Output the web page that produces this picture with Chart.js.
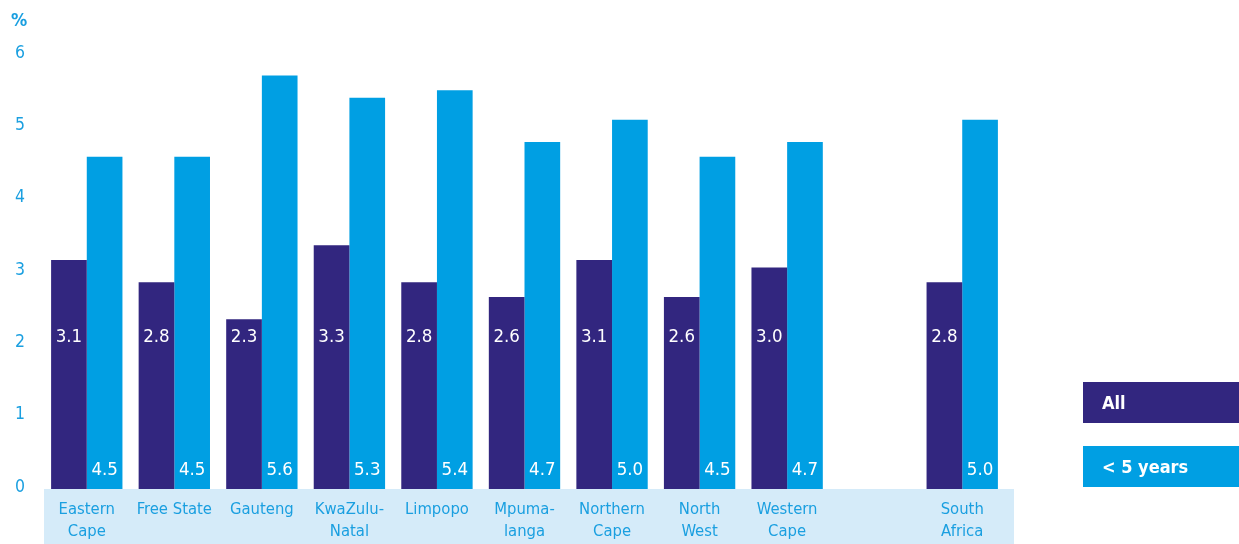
<!DOCTYPE html>
<html><head><meta charset="utf-8">
<script src="https://cdn.jsdelivr.net/npm/chart.js@4/dist/chart.umd.min.js"></script>
<style>
html,body{margin:0;padding:0;background:#fff;}
#wrap{position:relative;width:1239px;height:544px;overflow:hidden;}
#legend{position:absolute;left:1083px;top:382px;width:156px;}
.li{height:41px;color:#fff;font:bold 18px "Liberation Sans Narrow","DejaVu Sans Condensed",sans-serif;line-height:41px;padding-left:19px;box-sizing:border-box;margin-bottom:23px;}
</style></head><body>
<div id="wrap"><canvas id="c" width="1239" height="544"></canvas><div id="legend"></div></div>
<script>
const categories = [["Eastern","Cape"],"Free State","Gauteng",["KwaZulu-","Natal"],"Limpopo",["Mpuma-","langa"],["Northern","Cape"],["North","West"],["Western","Cape"],"",["South","Africa"]];
const seriesNames = ["All","< 5 years"];
const allValues = [3.1,2.8,2.3,3.3,2.8,2.6,3.1,2.6,3.0,null,2.8];
const under5Values = [4.5,4.5,5.6,5.3,5.4,4.7,5.0,4.5,4.7,null,5.0];
const yTicks = [0,1,2,3,4,5,6];
const unitLabel = "%";

const FONT = '"Liberation Sans Narrow","DejaVu Sans Condensed",sans-serif';
const DARK = '#32267f';
const LIGHT = '#009fe3';
const TXT = '#1a9fe0';
const BAND = '#d5ebf9';

const bandPlugin = {
  id: 'band',
  beforeDraw(chart) {
    const {ctx, chartArea, scales} = chart;
    ctx.save();
    ctx.fillStyle = BAND;
    ctx.fillRect(scales.x.left + 1, chartArea.bottom, scales.x.right + 8 - scales.x.left - 1, chart.height - chartArea.bottom);
    ctx.fillStyle = TXT;
    ctx.font = 'bold 18px ' + FONT;
    ctx.textAlign = 'center';
    ctx.textBaseline = 'middle';
    ctx.fillText(unitLabel, 19, 21);
    ctx.restore();
  }
};

const barLabelPlugin = {
  id: 'barLabels',
  afterDatasetsDraw(chart) {
    const {ctx, scales} = chart;
    const yPos = [scales.y.getPixelForValue(2.05), scales.y.getPixelForValue(0.25)];
    ctx.save();
    ctx.fillStyle = '#fff';
    ctx.font = '18.5px ' + FONT;
    ctx.textAlign = 'center';
    ctx.textBaseline = 'middle';
    chart.data.datasets.forEach((ds, di) => {
      chart.getDatasetMeta(di).data.forEach((bar, i) => {
        const v = ds.data[i];
        if (v === null || v === undefined) return;
        ctx.fillText(v.toFixed(1), bar.x, yPos[di]);
      });
    });
    ctx.restore();
  }
};

const chart = new Chart(document.getElementById('c'), {
  type: 'bar',
  data: {
    labels: categories,
    datasets: [
      {label: seriesNames[0], data: allValues, backgroundColor: DARK, yAxisID: 'y'},
      {label: seriesNames[1], data: under5Values, backgroundColor: LIGHT, yAxisID: 'y'}
    ]
  },
  options: {
    responsive: false,
    animation: false,
    events: [],
    layout: {padding: {left: 0, right: 233, top: 46, bottom: 0}},
    datasets: {bar: {categoryPercentage: 0.815, barPercentage: 1.0}},
    plugins: {legend: {display: false}, tooltip: {enabled: false}, title: {display: false}},
    scales: {
      x: {
        grid: {display: false},
        border: {display: false},
        ticks: {color: TXT, font: {family: FONT, size: 16.5, lineHeight: 1.38}, padding: 1, maxRotation: 0, autoSkip: false},
        afterFit(s) { s.height = 55; }
      },
      y: {display: false, min: 0, max: 6},
      yt: {
        position: 'left',
        min: -0.028, max: 6.097,
        grid: {display: false},
        border: {display: false},
        afterBuildTicks(axis) { axis.ticks = yTicks.map(v => ({value: v})); },
        ticks: {color: TXT, font: {family: FONT, size: 17.5}, padding: 10},
        afterFit(s) { s.width = 43; }
      }
    }
  },
  plugins: [bandPlugin, barLabelPlugin]
});

const leg = document.getElementById('legend');
chart.data.datasets.forEach(ds => {
  const d = document.createElement('div');
  d.className = 'li';
  d.style.background = ds.backgroundColor;
  d.textContent = ds.label;
  leg.appendChild(d);
});
</script>
</body></html>
